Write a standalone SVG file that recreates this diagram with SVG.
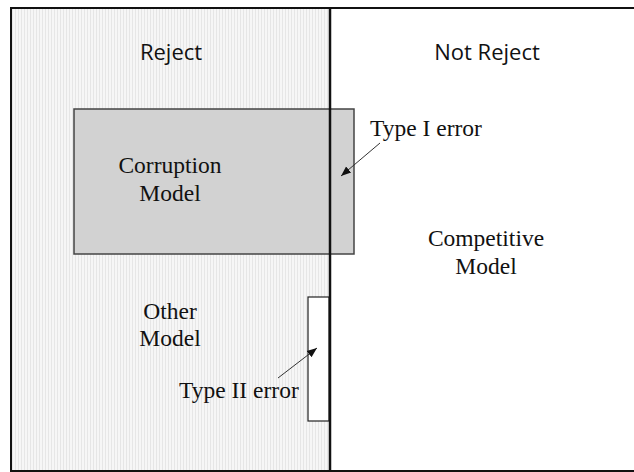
<svg xmlns="http://www.w3.org/2000/svg" width="634" height="472" viewBox="0 0 634 472">
<style>
.hd{font-family:"Open Sans","Liberation Sans",sans-serif;font-size:22px;fill:#111;text-anchor:middle}
.tm{font-family:"Liberation Serif","Times New Roman",serif;font-size:23.5px;fill:#111;text-anchor:middle}
.tl{font-family:"Liberation Serif","Times New Roman",serif;font-size:23.5px;fill:#111}
.cn{stroke:#333;stroke-width:1;fill:none;marker-end:url(#ah)}
</style>
<defs>
<pattern id="vs" width="3" height="3" patternUnits="userSpaceOnUse">
<rect width="3" height="3" fill="#f6f6f6"/>
<rect x="0" width="1" height="3" fill="#e6e6e6"/>
</pattern>
<marker id="ah" viewBox="0 0 10 10" refX="10" refY="5" markerWidth="10" markerHeight="10" markerUnits="userSpaceOnUse" orient="auto">
<path d="M0,1 L10,5 L0,9 z" fill="#111"/>
</marker>
</defs>
<rect width="634" height="472" fill="#fff"/>
<g id="reject-region">
<rect x="12" y="9" width="317" height="461" fill="url(#vs)"/>
<text class="hd" x="171" y="60">Reject</text>
</g>
<g id="not-reject-region">
<text class="hd" x="487" y="60">Not Reject</text>
</g>
<g id="corruption-model">
<rect x="74" y="109" width="280" height="145" fill="#d2d2d2" stroke="#444" stroke-width="1.5"/>
<text class="tm" x="170" y="173">Corruption</text>
<text class="tm" x="170" y="201">Model</text>
</g>
<g id="type2-box">
<rect x="308" y="297" width="21" height="124" fill="#fff" stroke="#222" stroke-width="1.2"/>
</g>
<g id="frame">
<rect x="11" y="8" width="640" height="463" fill="none" stroke="#111" stroke-width="2"/>
<line x1="330" y1="8" x2="330" y2="471" stroke="#111" stroke-width="2.5"/>
</g>
<g id="competitive-model">
<text class="tm" x="486" y="246">Competitive</text>
<text class="tm" x="486" y="274">Model</text>
</g>
<g id="other-model">
<text class="tm" x="170" y="319">Other</text>
<text class="tm" x="170" y="346">Model</text>
</g>
<g id="type1-label"><text class="tl" x="370" y="136">Type I error</text></g>
<g id="type2-label"><text class="tl" x="179" y="398">Type II error</text></g>
<g id="connectors">
<line class="cn" x1="380" y1="143" x2="341" y2="176"/>
<line class="cn" x1="278" y1="378" x2="317" y2="348"/>
</g>
</svg>
